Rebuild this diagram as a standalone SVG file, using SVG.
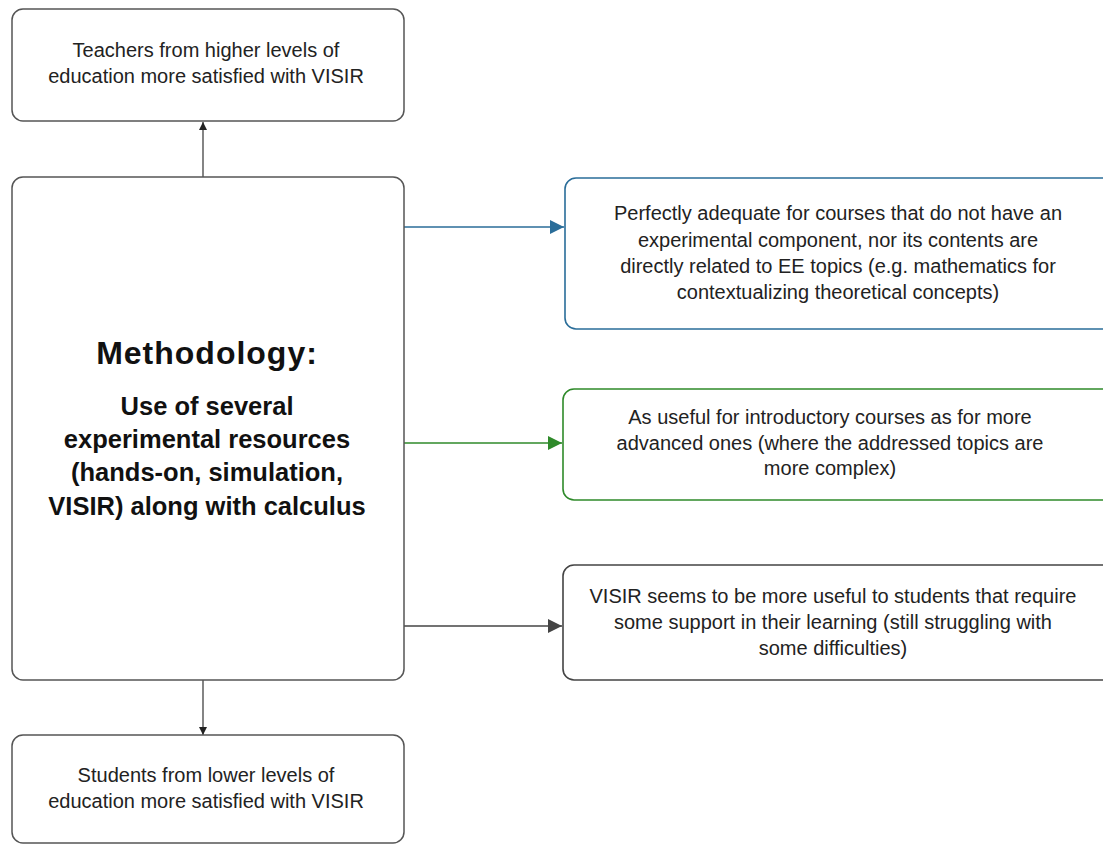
<svg xmlns="http://www.w3.org/2000/svg" width="1103" height="845" viewBox="0 0 1103 845">
<style>
.box{fill:#fff;stroke:#555;stroke-width:1.5}
.t{font-family:"Liberation Sans",Arial,sans-serif;font-size:20px;fill:#222;text-anchor:middle}
.b{font-family:"Liberation Sans",Arial,sans-serif;font-weight:bold;fill:#111;text-anchor:middle}
</style>
<defs>
<marker id="ab" viewBox="0 0 10 10" refX="10" refY="5" markerWidth="14" markerHeight="14" markerUnits="userSpaceOnUse" orient="auto"><path d="M0,0L10,5L0,10z" fill="#2a6d99"/></marker>
<marker id="ag" viewBox="0 0 10 10" refX="10" refY="5" markerWidth="14" markerHeight="14" markerUnits="userSpaceOnUse" orient="auto"><path d="M0,0L10,5L0,10z" fill="#2f8a2a"/></marker>
<marker id="ak" viewBox="0 0 10 10" refX="10" refY="5" markerWidth="14" markerHeight="14" markerUnits="userSpaceOnUse" orient="auto"><path d="M0,0L10,5L0,10z" fill="#444"/></marker>
<marker id="as" viewBox="0 0 10 10" refX="10" refY="5" markerWidth="8" markerHeight="8" markerUnits="userSpaceOnUse" orient="auto"><path d="M0,0L10,5L0,10z" fill="#222"/></marker>
</defs>
<rect width="1103" height="845" fill="#fff"/>
<g id="connectors">
<line x1="203" y1="177" x2="203" y2="122" stroke="#333" stroke-width="1.2" marker-end="url(#as)"/>
<line x1="203" y1="680" x2="203" y2="735" stroke="#333" stroke-width="1.2" marker-end="url(#as)"/>
<line x1="404" y1="227" x2="564" y2="227" stroke="#2a6d99" stroke-width="1.6" marker-end="url(#ab)"/>
<line x1="404" y1="443" x2="562" y2="443" stroke="#2f8a2a" stroke-width="1.6" marker-end="url(#ag)"/>
<line x1="404" y1="626" x2="562" y2="626" stroke="#444" stroke-width="1.6" marker-end="url(#ak)"/>
</g>
<g id="top">
<rect class="box" x="12" y="9" width="392" height="112" rx="11"/>
<text class="t" x="206" y="57">Teachers from higher levels of</text>
<text class="t" x="206" y="83">education more satisfied with VISIR</text>
</g>
<g id="method">
<rect class="box" x="12" y="177" width="392" height="503" rx="11"/>
<text class="b" x="207" y="364" font-size="32" letter-spacing="1">Methodology:</text>
<text class="b" x="207" y="415" font-size="25.5">Use of several</text>
<text class="b" x="207" y="448" font-size="25.5">experimental resources</text>
<text class="b" x="207" y="481" font-size="25.5">(hands-on, simulation,</text>
<text class="b" x="207" y="515" font-size="25.5">VISIR) along with calculus</text>
</g>
<g id="bottom">
<rect class="box" x="12" y="735" width="392" height="108" rx="11"/>
<text class="t" x="206" y="782">Students from lower levels of</text>
<text class="t" x="206" y="808">education more satisfied with VISIR</text>
</g>
<g id="r1">
<rect x="565" y="178" width="550" height="151" rx="11" fill="#fff" stroke="#2a6d99" stroke-width="1.6"/>
<text class="t" x="838" y="220">Perfectly adequate for courses that do not have an</text>
<text class="t" x="838" y="247">experimental component, nor its contents are</text>
<text class="t" x="838" y="273">directly related to EE topics (e.g. mathematics for</text>
<text class="t" x="838" y="299">contextualizing theoretical concepts)</text>
</g>
<g id="r2">
<rect x="563" y="389" width="550" height="111" rx="11" fill="#fff" stroke="#2f8a2a" stroke-width="1.6"/>
<text class="t" x="830" y="424">As useful for introductory courses as for more</text>
<text class="t" x="830" y="450">advanced ones (where the addressed topics are</text>
<text class="t" x="830" y="475">more complex)</text>
</g>
<g id="r3">
<rect x="563" y="565" width="550" height="115" rx="11" fill="#fff" stroke="#444" stroke-width="1.6"/>
<text class="t" x="833" y="603">VISIR seems to be more useful to students that require</text>
<text class="t" x="833" y="629">some support in their learning (still struggling with</text>
<text class="t" x="833" y="655">some difficulties)</text>
</g>
</svg>
